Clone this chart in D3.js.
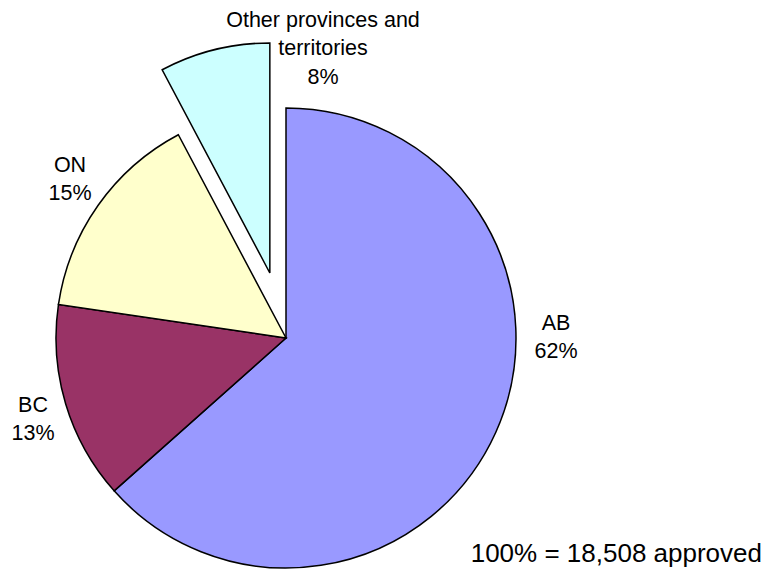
<!DOCTYPE html>
<html>
<head>
<meta charset="utf-8">
<script src="https://cdn.jsdelivr.net/npm/d3@7"></script>
<style>
  body { margin: 0; background: #fff; }
  text { font-family: Arial, "Liberation Sans", sans-serif; fill: #000; }
</style>
</head>
<body>
<script>
var width = 771,
    height = 571;

// data (approved counts, total 18,508)
var provinces = ["AB", "BC", "ON", "Other provinces and territories"];
var approved = [11740, 2573, 2760, 1435];
var pctLabels = ["62%", "13%", "15%", "8%"];
var colors = ["#9999ff", "#993366", "#ffffcc", "#ccffff"];
var labelLines = [["AB"], ["BC"], ["ON"], ["Other provinces and", "territories"]];
var totalNote = "100% = 18,508 approved";

// layout
var cx = 286, cy = 338, radius = 230, explodeDist = 67;
var explode = [0, 0, 0, 1];
// label anchors relative to pie centre (first baseline)
var labelOffset = [[270, -8.5], [-253, 73.5], [-216, -166.5], [37, -311.5]];
var lineGap = 28.5;

var svg = d3.select("body").append("svg")
    .attr("width", width)
    .attr("height", height);

var pie = d3.pie().sort(null).value(function (d) { return d; });
var arcs = pie(approved);

var arc = d3.arc().innerRadius(0).outerRadius(radius);

var g = svg.append("g").attr("transform", "translate(" + cx + "," + cy + ")");

g.selectAll("path.slice")
    .data(arcs)
    .enter().append("path")
    .attr("class", "slice")
    .attr("d", arc)
    .attr("transform", function (d, i) {
        var mid = (d.startAngle + d.endAngle) / 2;
        var off = explode[i] * explodeDist;
        return "translate(" + (Math.sin(mid) * off) + "," + (-Math.cos(mid) * off) + ")";
    })
    .style("fill", function (d, i) { return colors[i]; })
    .style("stroke", "#000")
    .style("stroke-width", 1.5)
    .style("stroke-linejoin", "miter");

var labels = g.selectAll("text.lbl")
    .data(arcs)
    .enter().append("text")
    .attr("class", "lbl")
    .attr("text-anchor", "middle")
    .style("font-size", "21.5px");

labels.each(function (d, i) {
    var t = d3.select(this);
    var lines = labelLines[i].concat([pctLabels[i]]);
    lines.forEach(function (s, j) {
        t.append("tspan")
            .attr("x", labelOffset[i][0])
            .attr("y", labelOffset[i][1] + j * lineGap)
            .text(s);
    });
});

svg.append("text")
    .attr("x", 762)
    .attr("y", 562)
    .attr("text-anchor", "end")
    .style("font-size", "26px")
    .text(totalNote);
</script>
</body>
</html>
